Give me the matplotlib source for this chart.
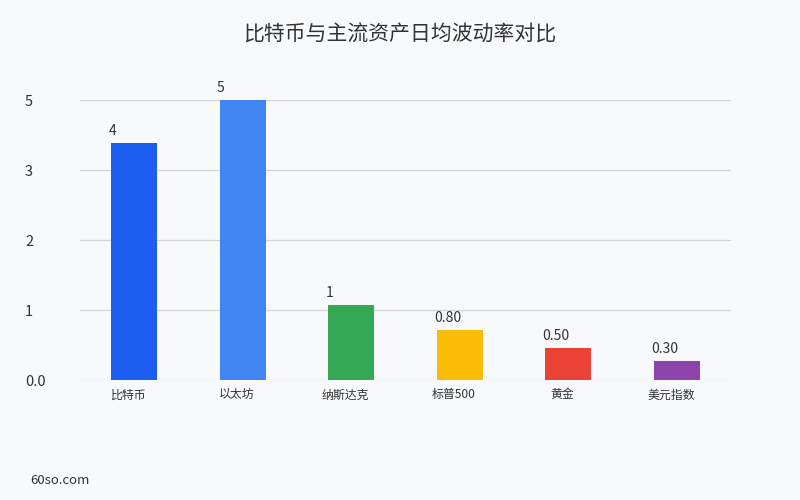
import matplotlib
matplotlib.use("Agg")
import matplotlib.pyplot as plt
from matplotlib.ticker import FixedLocator
from matplotlib import transforms

plt.rcParams['font.family'] = ['Noto Sans CJK SC', 'DejaVu Sans']

categories = ["比特币", "以太坊", "纳斯达克", "标普500", "黄金", "美元指数"]
values = [3.39, 4.0, 1.07, 0.71, 0.46, 0.27]
value_labels = ["4", "5", "1", "0.80", "0.50", "0.30"]
colors = ["#1c5ff0", "#4286f4", "#34a853", "#fbbc05", "#ea4335", "#8e44ad"]
ytick_values = [0, 1, 2, 3, 4]
ytick_labels = ["0.0", "1", "2", "3", "5"]
title = "比特币与主流资产日均波动率对比"

bg = "#f8f9fb"
fig = plt.figure(figsize=(8, 5), dpi=100, facecolor=bg)
ax = fig.add_axes([0.1, 0.24, 0.814, 0.56], facecolor=bg)

x = list(range(len(categories)))
bw = 0.424
bars = ax.bar(x, values, width=bw, color=colors, zorder=3)

ax.set_xlim(-0.5, len(categories) - 0.5)
ax.set_ylim(0, 4)
ax.yaxis.set_major_locator(FixedLocator(ytick_values))
ax.set_yticklabels(ytick_labels)
ax.set_xticks(x)
ax.set_xticklabels(categories)
ax.grid(axis='y', color="#cfd3dc", linewidth=0.9, zorder=0)
ax.set_axisbelow(True)
for s in ax.spines.values():
    s.set_visible(False)
ax.tick_params(axis='y', length=0, labelsize=10.5, colors="#333333")
ax.tick_params(axis='x', length=0, labelsize=8.6, colors="#333333", pad=6)
for lbl in ax.get_yticklabels():
    lbl.set_horizontalalignment('left')
    lbl.set_transform(transforms.blended_transform_factory(fig.transFigure, ax.transData))
    lbl.set_x(25 / 800)
xshift = transforms.ScaledTranslation(-6 / 100, 0, fig.dpi_scale_trans)
for lbl in ax.get_xticklabels():
    lbl.set_transform(lbl.get_transform() + xshift)

offset = transforms.ScaledTranslation(-3 / 100, 5 / 100, fig.dpi_scale_trans)
for xi, v, t in zip(x, values, value_labels):
    ax.text(xi - bw / 2, v, t, ha='left', va='bottom', fontsize=10, color="#333333",
            transform=ax.transData + offset)

fig.text(0.5, 1 - 35 / 500, title, ha='center', va='center', fontsize=15, color="#333333")
fig.text(30 / 800, 1 - 480 / 500, "60so.com", ha='left', va='center', fontsize=9.5, color="#333333")

fig.savefig("out.png", dpi=100, facecolor=bg)
